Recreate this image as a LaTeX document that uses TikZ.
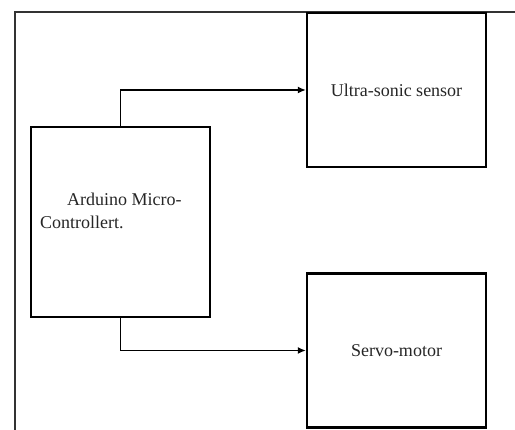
\documentclass[tikz,border=0pt]{standalone}
\usepackage{fontspec}
\setmainfont{Liberation Serif}
\usetikzlibrary{positioning,arrows.meta}

\begin{document}
\begin{tikzpicture}[x=1pt,y=1pt,node distance=12ex,on grid,
    block/.style={draw,line width=2.2pt,minimum width=179pt,minimum height=154pt,
      inner sep=0pt,font=\fontsize{18}{23}\selectfont,text=black!85},
    link/.style={-{Latex[length=8pt,width=7pt]},line width=1.8pt}]
  \useasboundingbox (0,0) rectangle (515,430);
  \begin{scope}
    \clip (0,0) rectangle (515,430);
    \draw[line width=2pt,black!80] (15,-20) rectangle (560,418);
  \end{scope}
  \node[block,minimum height=190pt] (ard) at (120.5,208) {};
  \node[anchor=north west,align=left,inner sep=0pt,
    font=\fontsize{18}{23}\selectfont,text=black!85] (ardtxt) at (40,237)
    {\hspace*{27pt}Arduino Micro-\\Controllert.};
  \node[block] (ultra) [above right=132pt and 276pt of ard] {Ultra-sonic sensor};
  \node[block] (servo) [below right=128.5pt and 276pt of ard] {Servo-motor};
  \draw[link] (ard.north) |- (ultra.west);
  \draw[link] (ard.south) |- (servo.west);
\end{tikzpicture}
\end{document}
